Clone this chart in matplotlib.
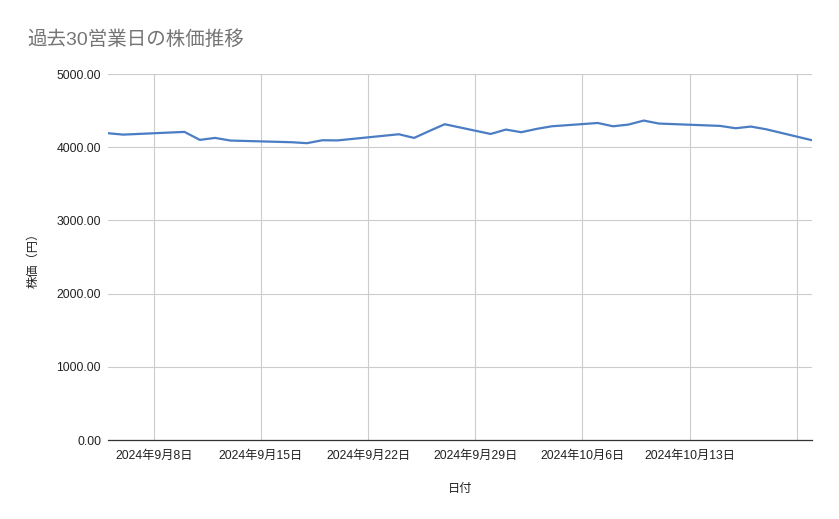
import numpy as np
import pandas as pd
import matplotlib
matplotlib.use('Agg')
import matplotlib.pyplot as plt
import matplotlib.dates as mdates

plt.rcParams['font.family'] = ['Liberation Sans', 'Noto Sans CJK JP', 'DejaVu Sans']

# 過去30営業日
dates = ['2024-09-05', '2024-09-06', '2024-09-09', '2024-09-10', '2024-09-11',
         '2024-09-12', '2024-09-13', '2024-09-17', '2024-09-18', '2024-09-19',
         '2024-09-20', '2024-09-24', '2024-09-25', '2024-09-26', '2024-09-27',
         '2024-09-30', '2024-10-01', '2024-10-02', '2024-10-03', '2024-10-04',
         '2024-10-07', '2024-10-08', '2024-10-09', '2024-10-10', '2024-10-11',
         '2024-10-15', '2024-10-16', '2024-10-17', '2024-10-18', '2024-10-21']
prices = [4191, 4172, 4200, 4209, 4100, 4127, 4091, 4068, 4055, 4095,
          4093, 4177, 4127, 4222, 4314, 4181, 4241, 4205, 4250, 4286,
          4331, 4286, 4309, 4364, 4323, 4291, 4259, 4282, 4245, 4095]
tick_dates = ['2024-09-08', '2024-09-15', '2024-09-22', '2024-09-29',
              '2024-10-06', '2024-10-13', '2024-10-20']
tick_labels = ['2024年9月8日', '2024年9月15日', '2024年9月22日', '2024年9月29日',
               '2024年10月6日', '2024年10月13日', '']
y_ticks = [0, 1000, 2000, 3000, 4000, 5000]

x = pd.to_datetime(dates)
fig = plt.figure(figsize=(8.39, 5.19), dpi=100)
ax = fig.add_axes([0.1287, 0.1522, 0.8392, 0.7052])

ax.plot(x, prices, color='#4a7dc4', linewidth=1.6, solid_joinstyle='round')

ax.set_xlim(x[0], x[-1])
ax.set_ylim(0, 5000)
ax.set_yticks(y_ticks)
ax.set_yticklabels(['%.2f' % v for v in y_ticks])
ax.set_xticks(pd.to_datetime(tick_dates))
ax.set_xticklabels(tick_labels)

ax.grid(True, color='#cccccc', linewidth=0.8)
ax.set_axisbelow(True)
for s in ['top', 'right', 'left']:
    ax.spines[s].set_visible(False)
ax.spines['bottom'].set_color('#333333')
ax.spines['bottom'].set_linewidth(0.9)
ax.spines['bottom'].set_zorder(3)
ax.tick_params(axis='both', length=0, labelsize=8.8, labelcolor='#222222')
ax.tick_params(axis='x', pad=7)
ax.tick_params(axis='y', pad=5)

ax.set_xlabel('日付', fontsize=8.8, color='#222222', labelpad=15)
ax.set_ylabel('株価（円）', fontsize=8.8, color='#222222', labelpad=12)

fig.text(0.033, 0.923, '過去30営業日の株価推移', fontsize=14, color='#757575',
         ha='left', va='center')

fig.savefig('out.png', dpi=100)
